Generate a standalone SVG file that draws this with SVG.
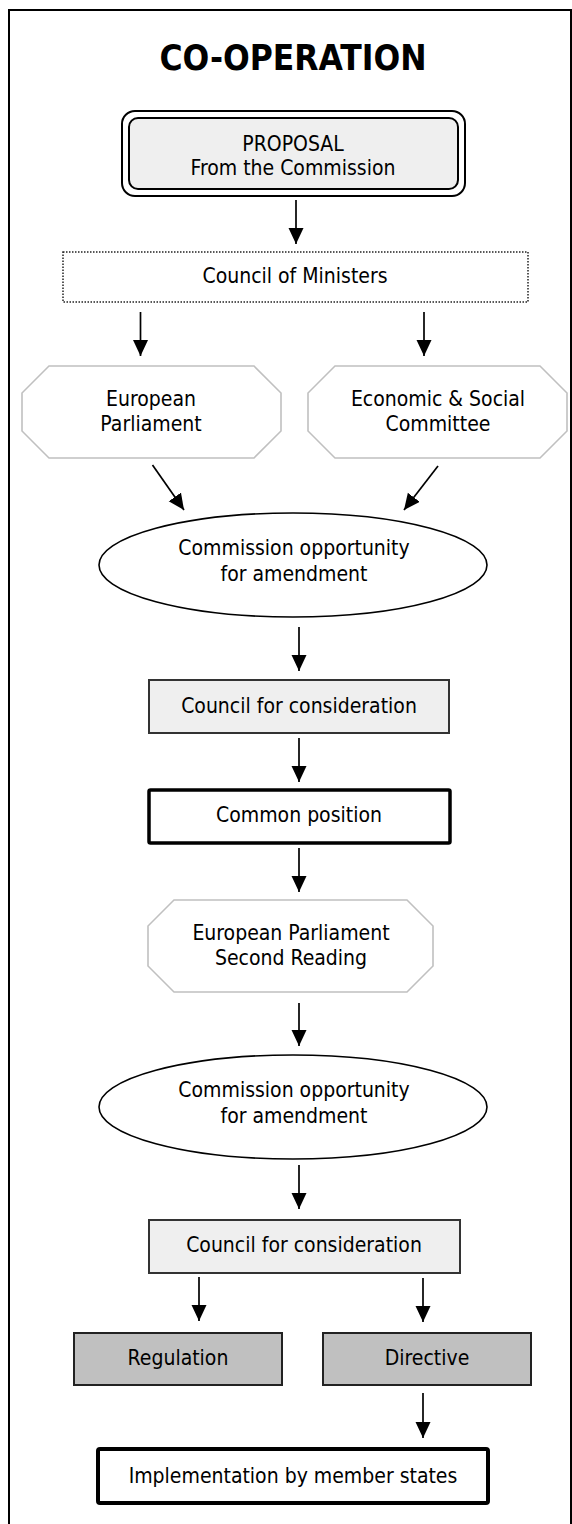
<svg xmlns="http://www.w3.org/2000/svg" width="572" height="1524" viewBox="0 0 572 1524">
<style>
text{font-family:"DejaVu Sans Condensed","DejaVu Sans",sans-serif;font-stretch:condensed;font-size:21px;fill:#000;text-anchor:middle}
.title{font-size:35px;font-weight:bold}
.oct{fill:#fff;stroke:#c0c0c0;stroke-width:1.6}
.ell{fill:#fff;stroke:#000;stroke-width:1.6}
.light{fill:#efefef;stroke:#333;stroke-width:2}
.dark{fill:#c0c0c0;stroke:#222;stroke-width:2}
.thick{fill:#fff;stroke:#000;stroke-width:3.5}
.conn line{stroke:#000;stroke-width:1.7;marker-end:url(#ah)}
</style>
<defs>
<marker id="ah" markerUnits="userSpaceOnUse" markerWidth="17" markerHeight="16" refX="16" refY="7.5" orient="auto">
<path d="M0,0 L16,7.5 L0,15 z" fill="#000"/>
</marker>
</defs>
<rect x="9" y="10" width="562" height="1540" fill="#fff" stroke="#000" stroke-width="2"/>
<text class="title" x="293" y="70">CO-OPERATION</text>

<g id="proposal">
<rect x="122" y="111" width="343" height="85" rx="13" fill="#fff" stroke="#000" stroke-width="2"/>
<rect x="129" y="118" width="329" height="71" rx="9" fill="#efefef" stroke="#000" stroke-width="2"/>
<text x="293" y="151">PROPOSAL</text>
<text x="293" y="175">From the Commission</text>
</g>

<g id="council-ministers">
<rect x="63" y="252" width="465" height="50" fill="#fff" stroke="#222" stroke-width="1.5" stroke-dasharray="1.5 1.5"/>
<text x="295" y="283">Council of Ministers</text>
</g>

<g id="european-parliament">
<polygon class="oct" points="49,366 254,366 281,393 281,431 254,458 49,458 22,431 22,393"/>
<text x="151" y="406">European</text>
<text x="151" y="431">Parliament</text>
</g>

<g id="ecosoc">
<polygon class="oct" points="335,366 540,366 567,393 567,431 540,458 335,458 308,431 308,393"/>
<text x="438" y="406">Economic &amp; Social</text>
<text x="438" y="431">Committee</text>
</g>

<g id="amend1">
<ellipse class="ell" cx="293" cy="565" rx="194" ry="52"/>
<text x="294" y="555">Commission opportunity</text>
<text x="294" y="581">for amendment</text>
</g>

<g id="council1">
<rect class="light" x="149" y="680" width="300" height="53"/>
<text x="299" y="713">Council for consideration</text>
</g>

<g id="common">
<rect class="thick" x="149" y="790" width="301" height="53" rx="1.5"/>
<text x="299" y="822">Common position</text>
</g>

<g id="ep2">
<polygon class="oct" points="174,900 407,900 433,926 433,966 407,992 174,992 148,966 148,926"/>
<text x="291" y="940">European Parliament</text>
<text x="291" y="965">Second Reading</text>
</g>

<g id="amend2">
<ellipse class="ell" cx="293" cy="1107" rx="194" ry="52"/>
<text x="294" y="1097">Commission opportunity</text>
<text x="294" y="1123">for amendment</text>
</g>

<g id="council2">
<rect class="light" x="149" y="1220" width="311" height="53"/>
<text x="304" y="1252">Council for consideration</text>
</g>

<g id="regulation">
<rect class="dark" x="74" y="1333" width="208" height="52"/>
<text x="178" y="1365">Regulation</text>
</g>

<g id="directive">
<rect class="dark" x="323" y="1333" width="208" height="52"/>
<text x="427" y="1365">Directive</text>
</g>

<g id="implementation">
<rect x="98" y="1449" width="390" height="54" rx="2" fill="#fff" stroke="#000" stroke-width="4"/>
<text x="293" y="1483">Implementation by member states</text>
</g>

<g id="connectors" class="conn">
<line x1="296" y1="200" x2="296" y2="244"/>
<line x1="140.5" y1="312" x2="140.5" y2="356"/>
<line x1="424" y1="312" x2="424" y2="356"/>
<line x1="152.5" y1="465" x2="184" y2="510"/>
<line x1="438" y1="466" x2="404" y2="510"/>
<line x1="299" y1="627" x2="299" y2="671"/>
<line x1="299" y1="738" x2="299" y2="782"/>
<line x1="299" y1="848" x2="299" y2="892"/>
<line x1="299" y1="1003" x2="299" y2="1046"/>
<line x1="299" y1="1165" x2="299" y2="1209"/>
<line x1="199" y1="1277" x2="199" y2="1321"/>
<line x1="423" y1="1278" x2="423" y2="1322"/>
<line x1="423" y1="1393" x2="423" y2="1438"/>
</g>
</svg>
